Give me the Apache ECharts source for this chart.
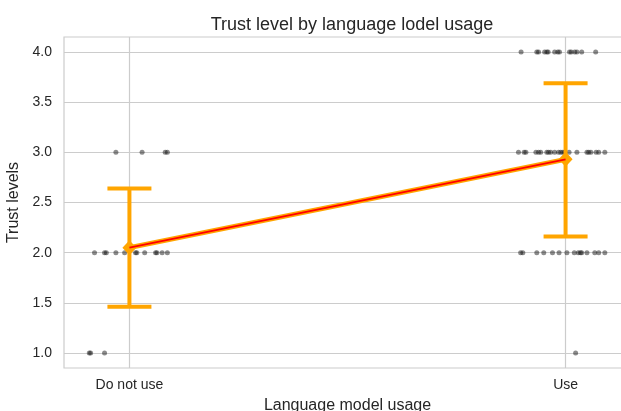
<!DOCTYPE html>
<html>
<head>
<meta charset="utf-8">
<script src="https://cdn.jsdelivr.net/npm/echarts@6/dist/echarts.min.js"></script>
<style>
  html, body { margin: 0; padding: 0; background: #fff; }
  #main { width: 621px; height: 411px; }
</style>
</head>
<body>
<div id="main"></div>
<script>
// categories on the x axis (positions 0 and 1)
var categories = ['Do not use', 'Use']
var yTicks = [1.0, 1.5, 2.0, 2.5, 3.0, 3.5, 4.0]

// strip points: trust value and horizontal jitter
var noUseValues = [3, 3, 3, 3,
  2, 2, 2, 2, 2, 2, 2, 2, 2, 2, 2, 2,
  1, 1, 1]
var noUseJitter = [-0.031, 0.029, 0.082, 0.087,
  -0.080, -0.057, -0.053, -0.031, -0.011, 0.014, 0.017, 0.035, 0.060, 0.063, 0.075, 0.087,
  -0.092, -0.089, -0.057]

var useValues = [4, 4, 4, 4, 4, 4, 4, 4, 4, 4, 4, 4, 4, 4, 4,
  3, 3, 3, 3, 3, 3, 3, 3, 3, 3, 3, 3, 3, 3, 3, 3, 3, 3, 3, 3, 3, 3,
  2, 2, 2, 2, 2, 2, 2, 2, 2, 2, 2, 2, 2, 2, 2,
  1]
var useJitter = [-0.102, -0.066, -0.062, -0.048, -0.043, -0.040, -0.025, -0.018, -0.014, 0.009, 0.013, 0.021, 0.026, 0.037, 0.069,
  -0.108, -0.095, -0.091, -0.068, -0.062, -0.057, -0.043, -0.039, -0.034, -0.025, -0.016, -0.011, -0.006, -0.002, 0.008, 0.026, 0.049, 0.053, 0.058, 0.070, 0.076, 0.090,
  -0.103, -0.098, -0.066, -0.050, -0.030, -0.015, 0.003, 0.020, 0.029, 0.034, 0.037, 0.049, 0.067, 0.076, 0.090,
  0.023]

// mean and error bar ends per category
var means = [2.05, 2.93]
var errLow = [1.46, 2.16]
var errHigh = [2.64, 3.69]

function buildPoints (catIndex, values, jitter) {
  var pts = []
  for (var i = 0; i < values.length; i++) {
    pts.push([catIndex + jitter[i], values[i]])
  }
  return pts
}

var stripData = buildPoints(0, noUseValues, noUseJitter).concat(buildPoints(1, useValues, useJitter))
var errData = []
var meanData = []
for (var i = 0; i < categories.length; i++) {
  errData.push([i, errLow[i], errHigh[i]])
  meanData.push([i, means[i]])
}

var textColor = '#262626'
var gridColor = '#cccccc'
var fontFamily = '"Liberation Sans", Arial, sans-serif'

var chart = echarts.init(document.getElementById('main'))
chart.setOption({
  animation: false,
  textStyle: { fontFamily: fontFamily },
  title: {
    text: 'Trust level by language lodel usage',
    left: 347,
    top: 11,
    textAlign: 'center',
    textStyle: { fontSize: 18, fontWeight: 'normal', color: textColor, fontFamily: fontFamily }
  },
  grid: {
    left: 64,
    top: 37,
    right: -10,
    bottom: 43,
    outerBoundsMode: 'none',
    containLabel: false,
    show: true,
    borderColor: gridColor,
    borderWidth: 1.2
  },
  xAxis: {
    type: 'value',
    min: -0.15,
    max: 1.15,
    name: 'Language model usage',
    nameLocation: 'middle',
    nameGap: 30,
    nameTextStyle: { fontSize: 16, color: textColor, fontFamily: fontFamily },
    axisLine: { show: false },
    axisTick: { show: false, customValues: [0, 1] },
    axisLabel: {
      customValues: [0, 1],
      margin: 10,
      fontSize: 14,
      color: textColor,
      formatter: function (v) { return categories[Math.round(v)] }
    },
    splitLine: { show: true, lineStyle: { color: gridColor, width: 1.2 } }
  },
  yAxis: {
    type: 'value',
    min: 0.85,
    max: 4.15,
    name: 'Trust levels',
    nameLocation: 'middle',
    nameGap: 36,
    nameRotate: 90,
    nameTextStyle: { fontSize: 16, color: textColor, fontFamily: fontFamily },
    axisLine: { show: false },
    axisTick: { show: false, customValues: yTicks },
    axisLabel: {
      customValues: yTicks,
      margin: 12,
      fontSize: 14,
      color: textColor,
      formatter: function (v) { return v.toFixed(1) }
    },
    splitLine: { show: true, lineStyle: { color: gridColor, width: 1.2 } }
  },
  series: [
    {
      type: 'scatter',
      data: stripData,
      symbolSize: 5,
      itemStyle: { color: 'rgba(20,20,20,0.62)' },
      z: 2
    },
    {
      type: 'custom',
      data: errData,
      z: 3,
      renderItem: function (params, api) {
        var lo = api.coord([api.value(0), api.value(1)])
        var hi = api.coord([api.value(0), api.value(2)])
        var cap = 22
        var style = { stroke: '#ffa500', lineWidth: 4, fill: null }
        return {
          type: 'group',
          children: [
            { type: 'line', shape: { x1: lo[0], y1: lo[1], x2: hi[0], y2: hi[1] }, style: style },
            { type: 'line', shape: { x1: lo[0] - cap, y1: lo[1], x2: lo[0] + cap, y2: lo[1] }, style: style },
            { type: 'line', shape: { x1: hi[0] - cap, y1: hi[1], x2: hi[0] + cap, y2: hi[1] }, style: style }
          ]
        }
      }
    },
    {
      type: 'line',
      data: meanData,
      symbol: 'diamond',
      symbolSize: [14, 15],
      itemStyle: { color: '#ffa500' },
      lineStyle: { color: '#ffa500', width: 5 },
      z: 4
    },
    {
      type: 'line',
      data: meanData,
      symbol: 'none',
      lineStyle: { color: '#ff0000', width: 2 },
      z: 5
    }
  ]
})
</script>
</body>
</html>
